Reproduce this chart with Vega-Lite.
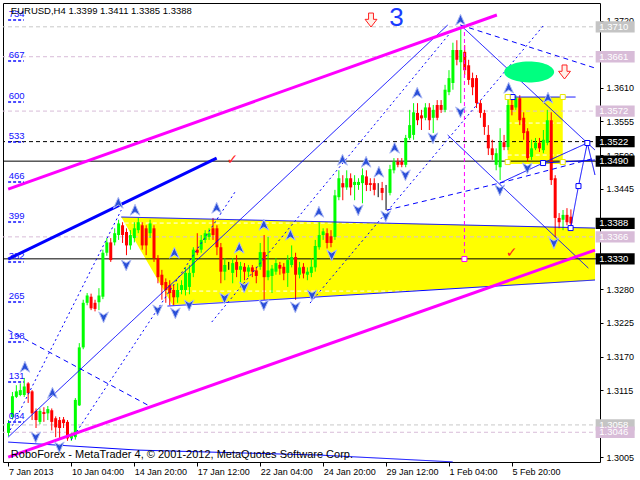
{
  "$schema": "https://vega.github.io/schema/vega-lite/v6.json",
  "width": 597,
  "height": 459,
  "autosize": {"type": "none"},
  "padding": {"left": 3, "top": 3, "right": 40, "bottom": 18},
  "background": "white",
  "config": {
    "view": {"stroke": "black", "strokeWidth": 1},
    "axis": {"grid": false, "domain": false, "title": null, "labelFont": "Liberation Sans", "labelFontSize": 9, "labelColor": "black", "tickColor": "black"}
  },
  "resolve": {"scale": {"color": "independent", "strokeDash": "independent", "strokeWidth": "independent", "shape": "independent", "size": "independent"}},
  "layer": [
    {
      "data": {"values": [
        {"t": 28.675, "top": 1.33985, "bot": 1.33985},
        {"t": 41.675, "top": 1.33965, "bot": 1.32543},
        {"t": 149.125, "top": 1.33804, "bot": 1.32953}
      ]},
      "mark": {"type": "area", "color": "#ffff00", "opacity": 1},
      "encoding": {
        "x": {"field": "t", "type": "quantitative", "scale": {"domain": [-0.125, 149.125], "nice": false, "zero": false},
          "axis": {"orient": "bottom", "values": [0, 16, 32, 48, 64, 80, 96, 112, 128], "labelExpr": "['7 Jan 2013','10 Jan 04:00','14 Jan 20:00','17 Jan 12:00','22 Jan 04:00','24 Jan 20:00','29 Jan 12:00','1 Feb 04:00','5 Feb 20:00'][round(datum.value/16)]", "labelAlign": "left", "labelBaseline": "top", "tickSize": 4, "labelPadding": 1, "labelFlush": false, "labelOverlap": false}},
        "y": {"field": "top", "type": "quantitative", "scale": {"domain": [1.29973, 1.3749], "nice": false, "zero": false},
          "axis": {"orient": "right", "values": [1.372, 1.361, 1.3555, 1.35, 1.3445, 1.328, 1.3225, 1.317, 1.3115, 1.3005], "format": ".4f", "tickSize": 3, "labelPadding": 3, "labelBaseline": "middle"}},
        "y2": {"field": "bot"}
      }
    },
    {
      "data": {"values": [{"t0": 126.925, "t1": 140.925, "p0": 1.3595, "p1": 1.34853}]},
      "mark": {"type": "rect", "color": "#ffff00"},
      "encoding": {
        "x": {"field": "t0", "type": "quantitative"},
        "x2": {"field": "t1"},
        "y": {"field": "p0", "type": "quantitative"},
        "y2": {"field": "p1"}
      }
    },
    {
      "data": {"values": [
        {"t0": 29.55, "p0": 1.33886, "t1": 149.125, "p1": 1.33886},
        {"t0": 39.6, "p0": 1.32772, "t1": 149.125, "p1": 1.32772},
        {"t0": 126.925, "p0": 1.35524, "t1": 140.925, "p1": 1.35524},
        {"t0": 126.925, "p0": 1.35, "t1": 140.925, "p1": 1.35}
      ]},
      "mark": {"type": "rule", "color": "#ffffff", "strokeDash": [4, 3], "strokeWidth": 1},
      "encoding": {
        "x": {"field": "t0", "type": "quantitative"},
        "x2": {"field": "t1"},
        "y": {"field": "p0", "type": "quantitative"},
        "y2": {"field": "p1"}
      }
    },
    {
      "data": {"values": [
        {"p": 1.371, "kind": "history"},
        {"p": 1.3058, "kind": "history"},
        {"p": 1.3661, "kind": "target"},
        {"p": 1.3572, "kind": "target"},
        {"p": 1.3366, "kind": "target"},
        {"p": 1.3046, "kind": "target"},
        {"p": 1.3522, "kind": "pivot"},
        {"p": 1.349, "kind": "level"},
        {"p": 1.333, "kind": "level"}
      ]},
      "mark": {"type": "rule", "strokeWidth": 1},
      "encoding": {
        "y": {"field": "p", "type": "quantitative"},
        "color": {"field": "kind", "type": "nominal", "legend": null, "scale": {"domain": ["history", "target", "pivot", "level"], "range": ["#c8c8c8", "#d8bcd8", "#000000", "#000000"]}},
        "strokeDash": {"field": "kind", "type": "nominal", "legend": null, "scale": {"domain": ["history", "target", "pivot", "level"], "range": [[4, 3], [4, 3], [4, 3], [1, 0]]}}
      }
    },
    {
      "data": {"name": "candles", "values": [
        {"t":0,"o":1.3045,"h":1.3066,"l":1.3040,"c":1.3061},
        {"t":1,"o":1.3071,"h":1.3112,"l":1.3067,"c":1.3105},
        {"t":2,"o":1.3104,"h":1.3123,"l":1.3102,"c":1.3113},
        {"t":3,"o":1.3107,"h":1.3126,"l":1.3105,"c":1.3115},
        {"t":4,"o":1.3107,"h":1.3135,"l":1.3104,"c":1.3121},
        {"t":5,"o":1.3126,"h":1.3128,"l":1.3094,"c":1.3110},
        {"t":6,"o":1.3113,"h":1.3115,"l":1.3066,"c":1.3077},
        {"t":7,"o":1.3081,"h":1.3085,"l":1.3053,"c":1.3066},
        {"t":8,"o":1.3063,"h":1.3085,"l":1.3059,"c":1.3081},
        {"t":9,"o":1.3079,"h":1.3087,"l":1.3063,"c":1.3076},
        {"t":10,"o":1.3077,"h":1.3089,"l":1.3066,"c":1.3084},
        {"t":11,"o":1.3082,"h":1.3085,"l":1.3049,"c":1.3063},
        {"t":12,"o":1.3069,"h":1.3072,"l":1.3038,"c":1.3054},
        {"t":13,"o":1.3066,"h":1.3071,"l":1.3036,"c":1.3053},
        {"t":14,"o":1.3067,"h":1.3071,"l":1.3053,"c":1.3061},
        {"t":15,"o":1.3063,"h":1.3066,"l":1.3032,"c":1.3036},
        {"t":16,"o":1.3036,"h":1.3045,"l":1.3032,"c":1.3041},
        {"t":17,"o":1.3038,"h":1.3102,"l":1.3034,"c":1.3099},
        {"t":18,"o":1.3090,"h":1.3192,"l":1.3089,"c":1.3185},
        {"t":19,"o":1.3185,"h":1.3263,"l":1.3182,"c":1.3258},
        {"t":20,"o":1.3258,"h":1.3274,"l":1.3254,"c":1.3270},
        {"t":21,"o":1.3268,"h":1.3273,"l":1.3246,"c":1.3249},
        {"t":22,"o":1.3258,"h":1.3263,"l":1.3244,"c":1.3248},
        {"t":23,"o":1.3259,"h":1.3282,"l":1.3246,"c":1.3270},
        {"t":24,"o":1.3268,"h":1.3345,"l":1.3264,"c":1.3340},
        {"t":25,"o":1.3340,"h":1.3364,"l":1.3335,"c":1.3357},
        {"t":26,"o":1.3357,"h":1.3364,"l":1.3325,"c":1.3328},
        {"t":27,"o":1.3357,"h":1.3380,"l":1.3352,"c":1.3372},
        {"t":28,"o":1.3369,"h":1.3394,"l":1.3361,"c":1.3388},
        {"t":29,"o":1.3385,"h":1.3390,"l":1.3356,"c":1.3369},
        {"t":30,"o":1.3374,"h":1.3380,"l":1.3336,"c":1.3352},
        {"t":31,"o":1.3352,"h":1.3377,"l":1.3345,"c":1.3369},
        {"t":32,"o":1.3364,"h":1.3390,"l":1.3357,"c":1.3380},
        {"t":33,"o":1.3377,"h":1.3397,"l":1.3372,"c":1.3390},
        {"t":34,"o":1.3385,"h":1.3390,"l":1.3345,"c":1.3352},
        {"t":35,"o":1.3380,"h":1.3385,"l":1.3336,"c":1.3352},
        {"t":36,"o":1.3372,"h":1.3394,"l":1.3364,"c":1.3388},
        {"t":37,"o":1.3380,"h":1.3385,"l":1.3325,"c":1.3331},
        {"t":38,"o":1.3331,"h":1.3336,"l":1.3290,"c":1.3300},
        {"t":39,"o":1.3304,"h":1.3312,"l":1.3263,"c":1.3287},
        {"t":40,"o":1.3292,"h":1.3298,"l":1.3258,"c":1.3279},
        {"t":41,"o":1.3287,"h":1.3295,"l":1.3254,"c":1.3274},
        {"t":42,"o":1.3279,"h":1.3287,"l":1.3254,"c":1.3267},
        {"t":43,"o":1.3267,"h":1.3290,"l":1.3258,"c":1.3279},
        {"t":44,"o":1.3279,"h":1.3295,"l":1.3272,"c":1.3287},
        {"t":45,"o":1.3279,"h":1.3316,"l":1.3270,"c":1.3307},
        {"t":46,"o":1.3284,"h":1.3320,"l":1.3272,"c":1.3307},
        {"t":47,"o":1.3307,"h":1.3349,"l":1.3300,"c":1.3345},
        {"t":48,"o":1.3345,"h":1.3372,"l":1.3336,"c":1.3340},
        {"t":49,"o":1.3345,"h":1.3369,"l":1.3340,"c":1.3361},
        {"t":50,"o":1.3361,"h":1.3377,"l":1.3356,"c":1.3372},
        {"t":51,"o":1.3366,"h":1.3380,"l":1.3361,"c":1.3372},
        {"t":52,"o":1.3380,"h":1.3397,"l":1.3361,"c":1.3369},
        {"t":53,"o":1.3380,"h":1.3385,"l":1.3336,"c":1.3349},
        {"t":54,"o":1.3349,"h":1.3356,"l":1.3290,"c":1.3309},
        {"t":55,"o":1.3309,"h":1.3331,"l":1.3295,"c":1.3320},
        {"t":56,"o":1.3317,"h":1.3325,"l":1.3312,"c":1.3317},
        {"t":57,"o":1.3307,"h":1.3331,"l":1.3290,"c":1.3323},
        {"t":58,"o":1.3325,"h":1.3336,"l":1.3300,"c":1.3312},
        {"t":59,"o":1.3312,"h":1.3325,"l":1.3287,"c":1.3318},
        {"t":60,"o":1.3317,"h":1.3323,"l":1.3295,"c":1.3309},
        {"t":61,"o":1.3309,"h":1.3320,"l":1.3300,"c":1.3316},
        {"t":62,"o":1.3316,"h":1.3320,"l":1.3300,"c":1.3309},
        {"t":63,"o":1.3311,"h":1.3317,"l":1.3290,"c":1.3302},
        {"t":64,"o":1.3317,"h":1.3356,"l":1.3312,"c":1.3341},
        {"t":65,"o":1.3341,"h":1.3369,"l":1.3263,"c":1.3300},
        {"t":66,"o":1.3300,"h":1.3366,"l":1.3295,"c":1.3311},
        {"t":67,"o":1.3302,"h":1.3320,"l":1.3274,"c":1.3314},
        {"t":68,"o":1.3309,"h":1.3331,"l":1.3304,"c":1.3323},
        {"t":69,"o":1.3320,"h":1.3325,"l":1.3304,"c":1.3314},
        {"t":70,"o":1.3317,"h":1.3323,"l":1.3295,"c":1.3306},
        {"t":71,"o":1.3307,"h":1.3336,"l":1.3284,"c":1.3328},
        {"t":72,"o":1.3320,"h":1.3352,"l":1.3316,"c":1.3333},
        {"t":73,"o":1.3333,"h":1.3340,"l":1.3263,"c":1.3304},
        {"t":74,"o":1.3304,"h":1.3325,"l":1.3298,"c":1.3316},
        {"t":75,"o":1.3317,"h":1.3323,"l":1.3298,"c":1.3306},
        {"t":76,"o":1.3304,"h":1.3316,"l":1.3295,"c":1.3309},
        {"t":77,"o":1.3307,"h":1.3331,"l":1.3300,"c":1.3317},
        {"t":78,"o":1.3316,"h":1.3361,"l":1.3309,"c":1.3351},
        {"t":79,"o":1.3349,"h":1.3390,"l":1.3345,"c":1.3369},
        {"t":80,"o":1.3369,"h":1.3380,"l":1.3361,"c":1.3375},
        {"t":81,"o":1.3372,"h":1.3380,"l":1.3347,"c":1.3356},
        {"t":82,"o":1.3367,"h":1.3377,"l":1.3349,"c":1.3356},
        {"t":83,"o":1.3366,"h":1.3443,"l":1.3361,"c":1.3434},
        {"t":84,"o":1.3431,"h":1.3475,"l":1.3426,"c":1.3462},
        {"t":85,"o":1.3454,"h":1.3467,"l":1.3426,"c":1.3447},
        {"t":86,"o":1.3447,"h":1.3475,"l":1.3443,"c":1.3462},
        {"t":87,"o":1.3462,"h":1.3470,"l":1.3434,"c":1.3447},
        {"t":88,"o":1.3451,"h":1.3467,"l":1.3426,"c":1.3456},
        {"t":89,"o":1.3451,"h":1.3462,"l":1.3443,"c":1.3456},
        {"t":90,"o":1.3454,"h":1.3478,"l":1.3421,"c":1.3467},
        {"t":91,"o":1.3465,"h":1.3475,"l":1.3441,"c":1.3451},
        {"t":92,"o":1.3454,"h":1.3462,"l":1.3441,"c":1.3451},
        {"t":93,"o":1.3454,"h":1.3462,"l":1.3434,"c":1.3443},
        {"t":94,"o":1.3443,"h":1.3454,"l":1.3431,"c":1.3443},
        {"t":95,"o":1.3446,"h":1.3456,"l":1.3426,"c":1.3438},
        {"t":96,"o":1.3441,"h":1.3451,"l":1.3410,"c":1.3441},
        {"t":97,"o":1.3438,"h":1.3484,"l":1.3434,"c":1.3477},
        {"t":98,"o":1.3475,"h":1.3495,"l":1.3470,"c":1.3489},
        {"t":99,"o":1.3489,"h":1.3495,"l":1.3480,"c":1.3484},
        {"t":100,"o":1.3489,"h":1.3495,"l":1.3480,"c":1.3484},
        {"t":101,"o":1.3484,"h":1.3533,"l":1.3480,"c":1.3528},
        {"t":102,"o":1.3528,"h":1.3574,"l":1.3525,"c":1.3549},
        {"t":103,"o":1.3533,"h":1.3585,"l":1.3525,"c":1.3570},
        {"t":104,"o":1.3569,"h":1.3585,"l":1.3549,"c":1.3557},
        {"t":105,"o":1.3565,"h":1.3574,"l":1.3541,"c":1.3560},
        {"t":106,"o":1.3561,"h":1.3585,"l":1.3557,"c":1.3578},
        {"t":107,"o":1.3578,"h":1.3585,"l":1.3541,"c":1.3557},
        {"t":108,"o":1.3561,"h":1.3582,"l":1.3536,"c":1.3574},
        {"t":109,"o":1.3582,"h":1.3590,"l":1.3557,"c":1.3561},
        {"t":110,"o":1.3582,"h":1.3590,"l":1.3569,"c":1.3574},
        {"t":111,"o":1.3574,"h":1.3615,"l":1.3570,"c":1.3607},
        {"t":112,"o":1.3603,"h":1.3639,"l":1.3598,"c":1.3626},
        {"t":113,"o":1.3618,"h":1.3684,"l":1.3607,"c":1.3672},
        {"t":114,"o":1.3672,"h":1.3688,"l":1.3647,"c":1.3656},
        {"t":115,"o":1.3652,"h":1.3710,"l":1.3585,"c":1.3672},
        {"t":116,"o":1.3669,"h":1.3680,"l":1.3631,"c":1.3639},
        {"t":117,"o":1.3647,"h":1.3656,"l":1.3615,"c":1.3623},
        {"t":118,"o":1.3626,"h":1.3635,"l":1.3598,"c":1.3611},
        {"t":119,"o":1.3626,"h":1.3631,"l":1.3577,"c":1.3585},
        {"t":120,"o":1.3585,"h":1.3590,"l":1.3561,"c":1.3569},
        {"t":121,"o":1.3569,"h":1.3574,"l":1.3533,"c":1.3546},
        {"t":122,"o":1.3533,"h":1.3549,"l":1.3500,"c":1.3511},
        {"t":123,"o":1.3511,"h":1.3525,"l":1.3492,"c":1.3500},
        {"t":124,"o":1.3484,"h":1.3511,"l":1.3475,"c":1.3503},
        {"t":125,"o":1.3480,"h":1.3544,"l":1.3459,"c":1.3521},
        {"t":126,"o":1.3521,"h":1.3533,"l":1.3508,"c":1.3513},
        {"t":127,"o":1.3513,"h":1.3593,"l":1.3508,"c":1.3582},
        {"t":128,"o":1.3582,"h":1.3593,"l":1.3565,"c":1.3574},
        {"t":129,"o":1.3578,"h":1.3598,"l":1.3574,"c":1.3593},
        {"t":130,"o":1.3593,"h":1.3598,"l":1.3549,"c":1.3557},
        {"t":131,"o":1.3561,"h":1.3570,"l":1.3525,"c":1.3536},
        {"t":132,"o":1.3539,"h":1.3544,"l":1.3489,"c":1.3495},
        {"t":133,"o":1.3497,"h":1.3525,"l":1.3492,"c":1.3511},
        {"t":134,"o":1.3511,"h":1.3528,"l":1.3508,"c":1.3520},
        {"t":135,"o":1.3520,"h":1.3528,"l":1.3505,"c":1.3511},
        {"t":136,"o":1.3508,"h":1.3541,"l":1.3503,"c":1.3525},
        {"t":137,"o":1.3520,"h":1.3574,"l":1.3516,"c":1.3557},
        {"t":138,"o":1.3557,"h":1.3570,"l":1.3451,"c":1.3459},
        {"t":139,"o":1.3462,"h":1.3467,"l":1.3366,"c":1.3397},
        {"t":140,"o":1.3397,"h":1.3405,"l":1.3380,"c":1.3390},
        {"t":141,"o":1.3394,"h":1.3410,"l":1.3377,"c":1.3402},
        {"t":142,"o":1.3402,"h":1.3413,"l":1.3385,"c":1.3390},
        {"t":143,"o":1.3399,"h":1.3411,"l":1.3385,"c":1.3388}
      ]},
      "mark": {"type": "rule", "strokeWidth": 1},
      "encoding": {
        "x": {"field": "t", "type": "quantitative"},
        "y": {"field": "l", "type": "quantitative"},
        "y2": {"field": "h"},
        "color": {"condition": [{"test": "datum.c > datum.o", "value": "#00ff00"}, {"test": "datum.c < datum.o", "value": "#ff0000"}], "value": "#000000"}
      }
    },
    {
      "data": {"name": "candles"},
      "mark": {"type": "bar", "size": 3},
      "encoding": {
        "x": {"field": "t", "type": "quantitative"},
        "y": {"field": "o", "type": "quantitative"},
        "y2": {"field": "c"},
        "color": {"condition": [{"test": "datum.c > datum.o", "value": "#00ff00"}, {"test": "datum.c < datum.o", "value": "#ff0000"}], "value": "#000000"}
      }
    },
    {
      "data": {"values": [
        {"kind": "trend", "t0": -0.075, "p0": 1.30381, "t1": 111.675, "p1": 1.37129},
        {"kind": "trend", "t0": 114.925, "p0": 1.37129, "t1": 149.125, "p1": 1.35082},
        {"kind": "trend", "t0": 111.675, "p0": 1.35328, "t1": 147.425, "p1": 1.33149},
        {"kind": "trend", "t0": 126.925, "p0": 1.3595, "t1": 144.175, "p1": 1.3595},
        {"kind": "trend", "t0": 28.675, "p0": 1.33985, "t1": 149.125, "p1": 1.33804},
        {"kind": "trend", "t0": 40.425, "p0": 1.32527, "t1": 149.125, "p1": 1.32953},
        {"kind": "trend", "t0": -0.075, "p0": 1.30299, "t1": 32.925, "p1": 1.30168},
        {"kind": "trend", "t0": 32.925, "p0": 1.30168, "t1": 79.175, "p1": 1.30086},
        {"kind": "trend", "t0": 79.175, "p0": 1.30086, "t1": 112.925, "p1": 1.29975},
        {"kind": "trend", "t0": 124.925, "p0": 1.34541, "t1": 135.925, "p1": 1.34869},
        {"kind": "trend", "t0": 135.925, "p0": 1.34869, "t1": 147.175, "p1": 1.35197},
        {"kind": "trend", "t0": 142.925, "p0": 1.33804, "t1": 144.925, "p1": 1.34492},
        {"kind": "trend", "t0": 144.925, "p0": 1.34492, "t1": 147.175, "p1": 1.35197},
        {"kind": "trend", "t0": 147.175, "p0": 1.35197, "t1": 149.125, "p1": 1.34673},
        {"kind": "trend", "t0": 135.925, "p0": 1.34869, "t1": 149.125, "p1": 1.34918},
        {"kind": "fan", "t0": 0.425, "p0": 1.30496, "t1": 28.675, "p1": 1.34099},
        {"kind": "fan", "t0": 15.925, "p0": 1.30332, "t1": 57.925, "p1": 1.34427},
        {"kind": "fan", "t0": 51.675, "p0": 1.32265, "t1": 112.925, "p1": 1.37048},
        {"kind": "fan", "t0": 76.675, "p0": 1.32576, "t1": 135.925, "p1": 1.37113},
        {"kind": "fork", "t0": -0.075, "p0": 1.32134, "t1": 35.425, "p1": 1.30905},
        {"kind": "fork", "t0": 114.925, "p0": 1.37129, "t1": 149.125, "p1": 1.36425},
        {"kind": "fork", "t0": 96.175, "p0": 1.34099, "t1": 124.925, "p1": 1.34541},
        {"kind": "fork", "t0": 124.925, "p0": 1.34541, "t1": 149.125, "p1": 1.34951},
        {"kind": "vline", "t0": 115.925, "p0": 1.37129, "t1": 115.925, "p1": 1.33297}
      ]},
      "mark": {"type": "rule", "strokeWidth": 1},
      "encoding": {
        "x": {"field": "t0", "type": "quantitative"},
        "x2": {"field": "t1"},
        "y": {"field": "p0", "type": "quantitative"},
        "y2": {"field": "p1"},
        "color": {"field": "kind", "type": "nominal", "legend": null, "scale": {"domain": ["trend", "fan", "fork", "vline"], "range": ["#0000ff", "#0000ff", "#0000ff", "#ff00ff"]}},
        "strokeDash": {"field": "kind", "type": "nominal", "legend": null, "scale": {"domain": ["trend", "fan", "fork", "vline"], "range": [[1, 0], [2, 3], [5, 4], [4, 3]]}}
      }
    },
    {
      "data": {"values": [
        {"kind": "channel", "t0": -0.075, "p0": 1.34443, "t1": 124.175, "p1": 1.37293},
        {"kind": "channel", "t0": -0.075, "p0": 1.30053, "t1": 149.125, "p1": 1.33444},
        {"kind": "support", "t0": -0.075, "p0": 1.33297, "t1": 52.925, "p1": 1.34951}
      ]},
      "mark": {"type": "rule", "strokeWidth": 3},
      "encoding": {
        "x": {"field": "t0", "type": "quantitative"},
        "x2": {"field": "t1"},
        "y": {"field": "p0", "type": "quantitative"},
        "y2": {"field": "p1"},
        "color": {"field": "kind", "type": "nominal", "legend": null, "scale": {"domain": ["channel", "support"], "range": ["#ff00ff", "#0000ff"]}}
      }
    },
    {
      "data": {"values": [
        {"lab": "734", "p": 1.37211}, {"lab": "667", "p": 1.3654}, {"lab": "600", "p": 1.35868},
        {"lab": "533", "p": 1.35213}, {"lab": "466", "p": 1.34558}, {"lab": "399", "p": 1.33902},
        {"lab": "332", "p": 1.33247}, {"lab": "265", "p": 1.32592}, {"lab": "198", "p": 1.31937},
        {"lab": "131", "p": 1.31282}, {"lab": "064", "p": 1.30627}
      ]},
      "layer": [
        {
          "mark": {"type": "text", "align": "left", "baseline": "bottom", "dy": -1, "font": "Liberation Sans", "fontSize": 9.5, "color": "#1010ff"},
          "encoding": {
            "x": {"datum": 0.05, "type": "quantitative"},
            "y": {"field": "p", "type": "quantitative"},
            "text": {"field": "lab"}
          }
        },
        {
          "mark": {"type": "rule", "color": "#1010ff", "strokeDash": [3, 2], "strokeWidth": 1.5},
          "encoding": {
            "x": {"datum": -0.1, "type": "quantitative"},
            "x2": {"datum": 3.9},
            "y": {"field": "p", "type": "quantitative"}
          }
        }
      ]
    },
    {
      "data": {"values": [
        {"t": 4.175, "p": 1.31528, "dir": "up"}, {"t": 11.175, "p": 1.31102, "dir": "up"},
        {"t": 27.925, "p": 1.34214, "dir": "up"}, {"t": 32.175, "p": 1.34099, "dir": "up"},
        {"t": 42.175, "p": 1.33395, "dir": "up"}, {"t": 52.925, "p": 1.34132, "dir": "up"},
        {"t": 58.675, "p": 1.33477, "dir": "up"}, {"t": 64.925, "p": 1.33854, "dir": "up"},
        {"t": 71.675, "p": 1.3369, "dir": "up"}, {"t": 78.925, "p": 1.34066, "dir": "up"},
        {"t": 84.925, "p": 1.34918, "dir": "up"}, {"t": 90.925, "p": 1.34885, "dir": "up"},
        {"t": 94.175, "p": 1.34722, "dir": "up"}, {"t": 98.175, "p": 1.35115, "dir": "up"},
        {"t": 103.925, "p": 1.36016, "dir": "up"}, {"t": 114.925, "p": 1.37211, "dir": "up"},
        {"t": 127.175, "p": 1.36098, "dir": "up"}, {"t": 137.175, "p": 1.35934, "dir": "up"},
        {"t": 6.925, "p": 1.30381, "dir": "down"}, {"t": 12.925, "p": 1.30217, "dir": "down"},
        {"t": 24.175, "p": 1.32347, "dir": "down"}, {"t": 29.925, "p": 1.33198, "dir": "down"},
        {"t": 37.925, "p": 1.32461, "dir": "down"}, {"t": 42.425, "p": 1.32412, "dir": "down"},
        {"t": 45.925, "p": 1.32543, "dir": "down"}, {"t": 54.925, "p": 1.32658, "dir": "down"},
        {"t": 59.925, "p": 1.32838, "dir": "down"}, {"t": 64.925, "p": 1.32543, "dir": "down"},
        {"t": 72.925, "p": 1.3251, "dir": "down"}, {"t": 77.175, "p": 1.32707, "dir": "down"},
        {"t": 82.175, "p": 1.33362, "dir": "down"}, {"t": 88.925, "p": 1.34099, "dir": "down"},
        {"t": 95.925, "p": 1.34001, "dir": "down"}, {"t": 100.925, "p": 1.34673, "dir": "down"},
        {"t": 107.925, "p": 1.35279, "dir": "down"}, {"t": 114.925, "p": 1.35704, "dir": "down"},
        {"t": 124.925, "p": 1.34427, "dir": "down"}, {"t": 131.925, "p": 1.34787, "dir": "down"},
        {"t": 138.675, "p": 1.33559, "dir": "down"}
      ]},
      "mark": {"type": "point", "filled": true, "color": "#2a4fd8", "stroke": "#b0bcf4", "strokeWidth": 1, "size": 130, "opacity": 1},
      "encoding": {
        "x": {"field": "t", "type": "quantitative"},
        "y": {"field": "p", "type": "quantitative"},
        "shape": {"field": "dir", "type": "nominal", "legend": null, "scale": {"domain": ["up", "down"], "range": ["M0,-1L0.85,0.9L0,0.35L-0.85,0.9Z", "M0,1L0.85,-0.9L0,-0.35L-0.85,-0.9Z"]}}
      }
    },
    {
      "data": {"values": [
        {"t": 142.925, "p": 1.33804, "kind": "forecast"}, {"t": 144.925, "p": 1.34492, "kind": "forecast"},
        {"t": 147.175, "p": 1.35197, "kind": "forecast"}, {"t": 135.925, "p": 1.34869, "kind": "forecast"},
        {"t": 128.175, "p": 1.3595, "kind": "forecast"}, {"t": 115.925, "p": 1.33297, "kind": "marker"},
        {"t": 126.925, "p": 1.3595, "kind": "zone"}, {"t": 140.925, "p": 1.3595, "kind": "zone"},
        {"t": 126.925, "p": 1.34885, "kind": "zone"}, {"t": 140.925, "p": 1.34885, "kind": "zone"}
      ]},
      "mark": {"type": "point", "shape": "square", "filled": false, "fill": "#ffffff", "fillOpacity": 1, "size": 25, "strokeWidth": 1, "opacity": 1},
      "encoding": {
        "x": {"field": "t", "type": "quantitative"},
        "y": {"field": "p", "type": "quantitative"},
        "color": {"field": "kind", "type": "nominal", "legend": null, "scale": {"domain": ["forecast", "marker", "zone"], "range": ["#0000ff", "#ff00ff", "#e8e800"]}}
      }
    },
    {
      "data": {"values": [{"t": 132.375, "p": 1.3636}]},
      "mark": {"type": "point", "shape": "M-1,0A1,0.42,0,1,0,1,0A1,0.42,0,1,0,-1,0Z", "filled": true, "color": "#00ff80", "size": 2500, "opacity": 1},
      "encoding": {"x": {"field": "t", "type": "quantitative"}, "y": {"field": "p", "type": "quantitative"}}
    },
    {
      "data": {"values": [{"t": 92.175, "p": 1.37211}, {"t": 141.375, "p": 1.3636}]},
      "mark": {"type": "point", "shape": "M-0.35,-1L0.35,-1L0.35,-0.1L0.85,-0.1L0,1L-0.85,-0.1L-0.35,-0.1Z", "filled": false, "fill": "#fff0e8", "fillOpacity": 1, "stroke": "#ff2020", "strokeWidth": 1, "size": 196, "opacity": 1},
      "encoding": {"x": {"field": "t", "type": "quantitative"}, "y": {"field": "p", "type": "quantitative"}}
    },
    {
      "data": {"values": [{"t": 56.925, "p": 1.34918, "s": "✓"}, {"t": 127.925, "p": 1.33395, "s": "✓"}]},
      "mark": {"type": "text", "font": "DejaVu Sans", "fontSize": 14, "fontWeight": "bold", "color": "#ff2020", "align": "center", "baseline": "middle"},
      "encoding": {"x": {"field": "t", "type": "quantitative"}, "y": {"field": "p", "type": "quantitative"}, "text": {"field": "s"}}
    },
    {
      "data": {"values": [{"t": 98.675, "p": 1.37244, "s": "3"}]},
      "mark": {"type": "text", "font": "Liberation Sans", "fontSize": 26, "color": "#1a3cff", "align": "center", "baseline": "middle"},
      "encoding": {"x": {"field": "t", "type": "quantitative"}, "y": {"field": "p", "type": "quantitative"}, "text": {"field": "s"}}
    },
    {
      "data": {"values": [
        {"t": 0.6, "p": 1.3731, "s": "EURUSD,H4  1.3399 1.3411 1.3385 1.3388", "sz": "head"},
        {"t": 0.6, "p": 1.30035, "s": "RoboForex - MetaTrader 4, © 2001-2012, MetaQuotes Software Corp.", "sz": "foot"}
      ]},
      "mark": {"type": "text", "font": "Liberation Sans", "color": "#000000", "align": "left", "baseline": "alphabetic"},
      "encoding": {
        "x": {"field": "t", "type": "quantitative"},
        "y": {"field": "p", "type": "quantitative"},
        "text": {"field": "s"},
        "size": {"field": "sz", "type": "nominal", "legend": null, "scale": {"domain": ["head", "foot"], "range": [9.5, 11]}}
      }
    },
    {
      "data": {"values": [
        {"p": 1.371, "lab": "1.3710", "kind": "history"},
        {"p": 1.3661, "lab": "1.3661", "kind": "target"},
        {"p": 1.3572, "lab": "1.3572", "kind": "target"},
        {"p": 1.3522, "lab": "1.3522", "kind": "level"},
        {"p": 1.349, "lab": "1.3490", "kind": "level"},
        {"p": 1.3388, "lab": "1.3388", "kind": "level"},
        {"p": 1.3366, "lab": "1.3366", "kind": "target"},
        {"p": 1.333, "lab": "1.3330", "kind": "level"},
        {"p": 1.3058, "lab": "1.3058", "kind": "history"},
        {"p": 1.3046, "lab": "1.3046", "kind": "target"}
      ]},
      "layer": [
        {
          "mark": {"type": "point", "shape": "M-1,-0.29L1,-0.29L1,0.29L-1,0.29Z", "filled": true, "size": 1521, "opacity": 1},
          "encoding": {
            "x": {"datum": 154.25, "type": "quantitative"},
            "y": {"field": "p", "type": "quantitative"},
            "color": {"field": "kind", "type": "nominal", "legend": null, "scale": {"domain": ["history", "target", "level"], "range": ["#c4c4c4", "#d8bcd8", "#000000"]}}
          }
        },
        {
          "mark": {"type": "text", "font": "Liberation Sans", "fontSize": 9.5, "color": "#ffffff", "align": "left", "baseline": "middle"},
          "encoding": {
            "x": {"datum": 150.2, "type": "quantitative"},
            "y": {"field": "p", "type": "quantitative"},
            "text": {"field": "lab"}
          }
        }
      ]
    }
  ]
}
